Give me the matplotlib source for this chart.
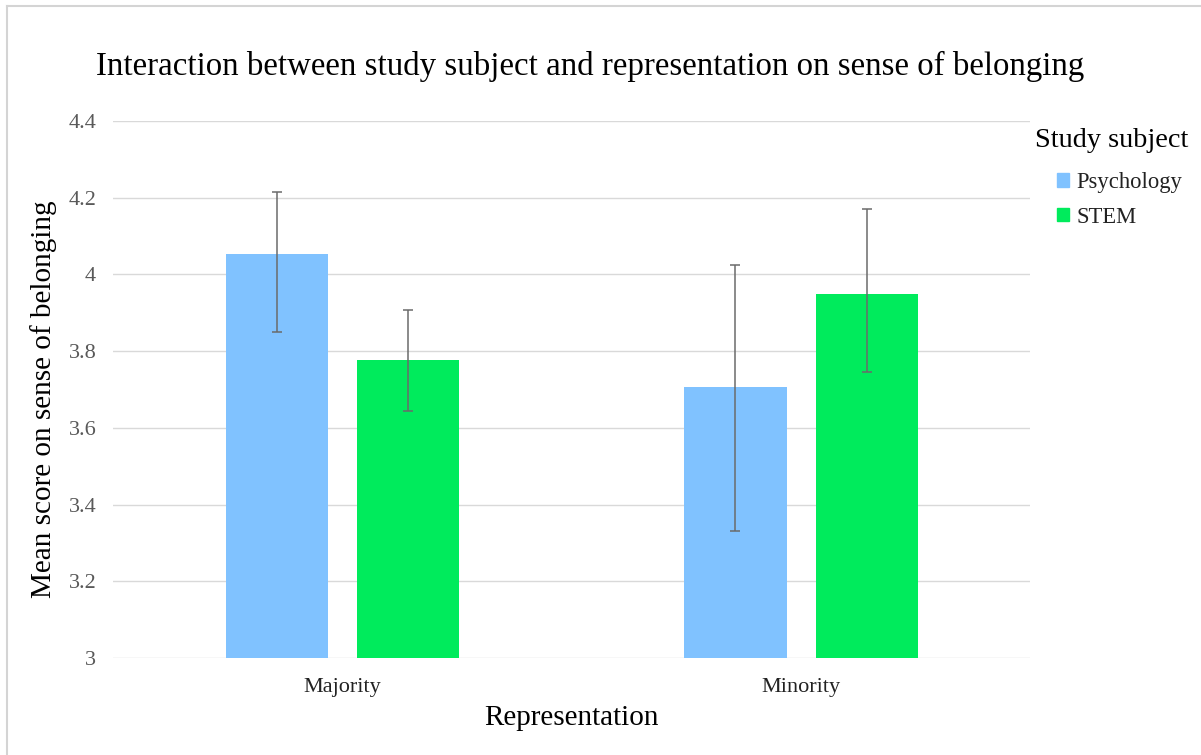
import matplotlib.pyplot as plt
import numpy as np
from matplotlib.patches import Patch
from matplotlib.lines import Line2D

plt.rcParams['font.family'] = ['Liberation Serif', 'DejaVu Serif']

# data
categories = ['Majority', 'Minority']
series = ['Psychology', 'STEM']
means = {'Psychology': [4.053, 3.706], 'STEM': [3.777, 3.949]}
err_low = {'Psychology': [0.203, 0.375], 'STEM': [0.133, 0.203]}
err_high = {'Psychology': [0.162, 0.319], 'STEM': [0.130, 0.221]}
colors = {'Psychology': '#80C2FF', 'STEM': '#00EB5C'}
yticks = [3, 3.2, 3.4, 3.6, 3.8, 4, 4.2, 4.4]

fig = plt.figure(figsize=(12.01, 7.55), dpi=100)
ax = fig.add_axes([0.094, 0.1285, 0.764, 0.7112])

x = np.arange(len(categories))
offsets = {'Psychology': -0.143, 'STEM': 0.143}
for s in series:
    ax.bar(x + offsets[s], [m - 3 for m in means[s]], bottom=3, width=0.223,
           color=colors[s], zorder=2, label=s)
    ax.errorbar(x + offsets[s], means[s], yerr=[err_low[s], err_high[s]],
                fmt='none', ecolor='#6b6b6b', elinewidth=1.1, capsize=3.6,
                capthick=1.1, zorder=3)

ax.set_xlim(-0.5, 1.5)
ax.set_ylim(3, 4.4)
ax.set_yticks(yticks)
ax.set_yticklabels([f'{t:g}' for t in yticks], color='#595959', fontsize=16)
ax.set_xticks(x)
ax.set_xticklabels(categories, fontsize=16, color='#222222')
ax.tick_params(axis='y', length=0, pad=12)
ax.tick_params(axis='x', length=0, pad=14.5)
ax.yaxis.grid(True, color='#d9d9d9', linewidth=1, zorder=0)
ax.set_axisbelow(True)
for sp in ax.spines.values():
    sp.set_visible(False)

ax.set_ylabel('Mean score on sense of belonging', fontsize=21, labelpad=8)
ax.yaxis.label.set_y(0.482)
ax.set_xlabel('Representation', fontsize=21, labelpad=6)
fig.text(0.4917, 0.9007, 'Interaction between study subject and representation on sense of belonging',
         ha='center', va='baseline', fontsize=23.7)

# legend
fig.text(0.8618, 1 - 147 / 755, 'Study subject', ha='left', va='baseline', fontsize=20.3)
handles = [Patch(color=colors[s]) for s in series]
leg = fig.legend(handles, series, loc='upper left', bbox_to_anchor=(0.880, 1 - 172 / 755),
                 frameon=False, fontsize=16.3, handlelength=0.55, handleheight=0.55,
                 handletextpad=0.3, labelspacing=0.6, borderpad=0, borderaxespad=0)
for t in leg.get_texts():
    t.set_color('#222222')

# partial frame around the figure (top and left edges)
fig.lines.append(Line2D([7 / 1201, 7 / 1201], [0, 1 - 6 / 755], transform=fig.transFigure,
                        color='#d4d4d4', linewidth=1.5))
fig.lines.append(Line2D([7 / 1201, 1], [1 - 6 / 755, 1 - 6 / 755], transform=fig.transFigure,
                        color='#d4d4d4', linewidth=1.5))

fig.savefig('out.png', dpi=100)
